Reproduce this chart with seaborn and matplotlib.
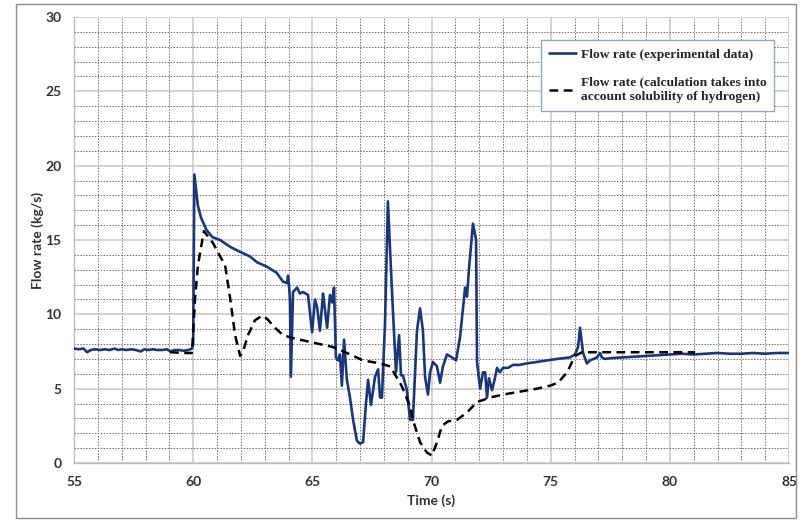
import numpy as np
import pandas as pd
import matplotlib
matplotlib.use("Agg")
import matplotlib.pyplot as plt
from matplotlib.ticker import MultipleLocator
from matplotlib.patches import Rectangle
import seaborn as sns

# ---------------- data ----------------
t_exp = [55.0, 55.2, 55.4, 55.55, 55.7, 55.9, 56.1, 56.3, 56.5, 56.7, 56.85, 57.0,
         57.2, 57.4, 57.6, 57.8, 57.95, 58.1, 58.3, 58.5, 58.7, 58.9, 59.05, 59.2,
         59.4, 59.6, 59.8, 59.95, 60.0, 60.05, 60.2, 60.33, 60.55, 60.8, 61.13,
         61.4, 61.6, 61.97, 62.38, 62.68, 63.1, 63.5, 63.77, 63.94, 63.98, 64.02,
         64.06, 64.10, 64.19, 64.36, 64.48, 64.61, 64.82, 64.99, 65.11, 65.2, 65.32,
         65.45, 65.62, 65.74, 65.83, 65.91, 65.99, 66.08, 66.16, 66.24, 66.33,
         66.45, 66.58, 66.71, 66.87, 67.0, 67.13, 67.25, 67.34, 67.46, 67.63,
         67.76, 67.84, 67.92, 68.05, 68.17, 68.34, 68.51, 68.64, 68.72, 68.8,
         68.97, 69.1, 69.22, 69.39, 69.52, 69.64, 69.73, 69.85, 69.94, 70.06,
         70.23, 70.36, 70.48, 70.65, 70.86, 71.03, 71.2, 71.41, 71.49, 71.57,
         71.74, 71.87, 71.91, 72.04, 72.16, 72.25, 72.33, 72.41, 72.54, 72.66,
         72.75, 72.87, 73.0, 73.21, 73.42, 73.71, 74.01, 74.43, 74.85, 75.27,
         75.81, 76.02, 76.15, 76.23, 76.36, 76.52, 76.65, 76.94, 77.07, 77.15,
         77.28, 77.5, 78.0, 78.5, 79.0, 79.5, 80.0, 80.5, 81.0, 81.5, 82.0, 82.5,
         83.0, 83.5, 84.0, 84.5, 85.0]
v_exp = [7.7, 7.65, 7.7, 7.45, 7.6, 7.65, 7.6, 7.65, 7.6, 7.7, 7.6, 7.65,
         7.6, 7.65, 7.6, 7.5, 7.65, 7.6, 7.65, 7.6, 7.6, 7.65, 7.5, 7.6,
         7.6, 7.55, 7.6, 7.7, 8.0, 19.4, 17.3, 16.5, 15.7, 15.2, 15.0,
         14.7, 14.5, 14.2, 13.9, 13.5, 13.2, 12.8, 12.2, 12.1, 12.6, 12.0,
         11.0, 5.8, 11.5, 11.8, 11.4, 11.5, 11.3, 8.8, 11.0, 10.5, 8.9,
         11.4, 9.1, 11.3, 10.8, 11.8, 7.1, 6.9, 7.3, 5.2, 8.3,
         5.6, 4.4, 2.9, 1.5, 1.3, 1.4, 4.0, 5.6, 3.9, 5.8,
         6.3, 4.4, 4.4, 9.4, 17.6, 11.6, 6.1, 8.6, 5.9, 5.9,
         4.9, 2.9, 2.9, 8.9, 10.4, 8.9, 5.8, 4.6, 6.1, 6.8,
         6.5, 5.4, 6.5, 7.3, 7.1, 6.9, 8.5, 11.8, 11.2, 13.0,
         16.1, 15.0, 6.8, 5.0, 6.1, 6.1, 4.4, 5.7, 4.9, 5.7,
         6.4, 6.1, 6.4, 6.4, 6.6, 6.6, 6.7, 6.8, 6.9, 7.0,
         7.1, 7.3, 7.8, 9.1, 7.4, 6.7, 6.9, 7.1, 7.4, 7.1,
         7.0, 7.05, 7.1, 7.15, 7.2, 7.25, 7.3, 7.35, 7.3, 7.35, 7.4, 7.35,
         7.35, 7.4, 7.35, 7.4, 7.4]

t_calc = [59.03, 59.66, 59.95, 60.08, 60.2, 60.45, 60.83, 61.13, 61.34, 61.55,
          61.76, 61.97, 62.09, 62.3, 62.59, 62.89, 63.1, 63.43, 63.77, 64.19,
          65.03, 65.87, 66.45, 67.13, 67.84, 68.26, 68.68, 68.8, 69.1, 69.22,
          69.52, 69.81, 70.02, 70.23, 70.44, 70.69, 71.07, 71.49, 71.91, 72.45,
          73.0, 73.71, 74.43, 74.97, 75.31, 75.69, 76.02, 76.32, 81.06]
v_calc = [7.45, 7.4, 7.4, 11.1, 13.3, 15.6, 14.8, 13.9, 13.3, 11.1,
          8.6, 7.2, 7.5, 8.6, 9.6, 9.9, 9.7, 9.1, 8.6, 8.4,
          8.1, 7.8, 7.4, 6.9, 6.7, 6.5, 5.4, 5.0, 3.8, 2.9,
          1.4, 0.7, 0.5, 1.4, 2.5, 2.8, 2.9, 3.4, 4.1, 4.4,
          4.6, 4.8, 5.0, 5.2, 5.4, 6.1, 7.2, 7.45, 7.45]

label_exp = "Flow rate (experimental data)"
label_calc = "Flow rate (calculation takes into\naccount solubility of hydrogen)"
x_label = "Time (s)"
y_label = "Flow rate (kg/s)"

df_exp = pd.DataFrame({"t": t_exp, "v": v_exp})
df_calc = pd.DataFrame({"t": t_calc, "v": v_calc})

# ---------------- figure ----------------
sns.set_style("white")
plt.rcParams["font.family"] = ["Lato", "DejaVu Sans"]

fig = plt.figure(figsize=(8.0, 5.25), dpi=100)
ax = fig.add_axes([74 / 800, 1 - 463 / 525, 715 / 800, 446 / 525])

navy = "#1b3679"
sns.lineplot(data=df_exp, x="t", y="v", ax=ax, color=navy, linewidth=1.9,
             label=label_exp, sort=False, zorder=3)
sns.lineplot(data=df_calc, x="t", y="v", ax=ax, color="black", linewidth=1.8,
             label=label_calc, sort=False, zorder=4, dashes=False)
ax.lines[1].set_dashes((3.5, 2.2))

ax.set_xlim(55, 85)
ax.set_ylim(0, 30)
ax.xaxis.set_major_locator(MultipleLocator(5))
ax.xaxis.set_minor_locator(MultipleLocator(1))
ax.yaxis.set_major_locator(MultipleLocator(5))
ax.yaxis.set_minor_locator(MultipleLocator(1))

ax.set_axisbelow(True)
ax.grid(which="major", color="#c6c6c6", linewidth=1.1, linestyle="-")
ax.grid(which="minor", color="#707070", linewidth=0.7, linestyle=(0, (1.5, 1.5)))

for side in ["top", "right"]:
    ax.spines[side].set_visible(False)
for side in ["left", "bottom"]:
    ax.spines[side].set_color("#bfbfbf")
    ax.spines[side].set_linewidth(1.0)

ax.tick_params(axis="both", which="major", direction="out", length=5,
               width=1.0, color="#bfbfbf", labelsize=10, pad=4)
ax.tick_params(axis="both", which="minor", length=0)
for lab in ax.get_xticklabels() + ax.get_yticklabels():
    lab.set_fontweight("bold")
    lab.set_color("#333333")

ax.set_xlabel(x_label, fontsize=10, fontweight="bold", color="#333333", labelpad=5)
ax.set_ylabel(y_label, fontsize=10, fontweight="bold", color="#333333", labelpad=1)

leg = ax.legend(loc="upper left", bbox_to_anchor=(0.653, 0.948), borderaxespad=0,
                frameon=True, fancybox=False, handlelength=2.0, labelspacing=1.15,
                borderpad=0.6, handletextpad=0.35,
                prop={"family": "Liberation Serif", "weight": "bold", "size": 9.7})
for txt in leg.get_texts():
    txt.set_linespacing(1.35)
leg.get_frame().set_edgecolor("#98a6c0")
leg.get_frame().set_linewidth(1.0)
leg.get_frame().set_alpha(1.0)

fig.patches.append(Rectangle((16 / 800, 1 - 518 / 525), 780 / 800, 514 / 525,
                             transform=fig.transFigure, fill=False,
                             edgecolor="#8c8c8c", linewidth=1.0))

fig.savefig("out.png", dpi=100, facecolor="white")
